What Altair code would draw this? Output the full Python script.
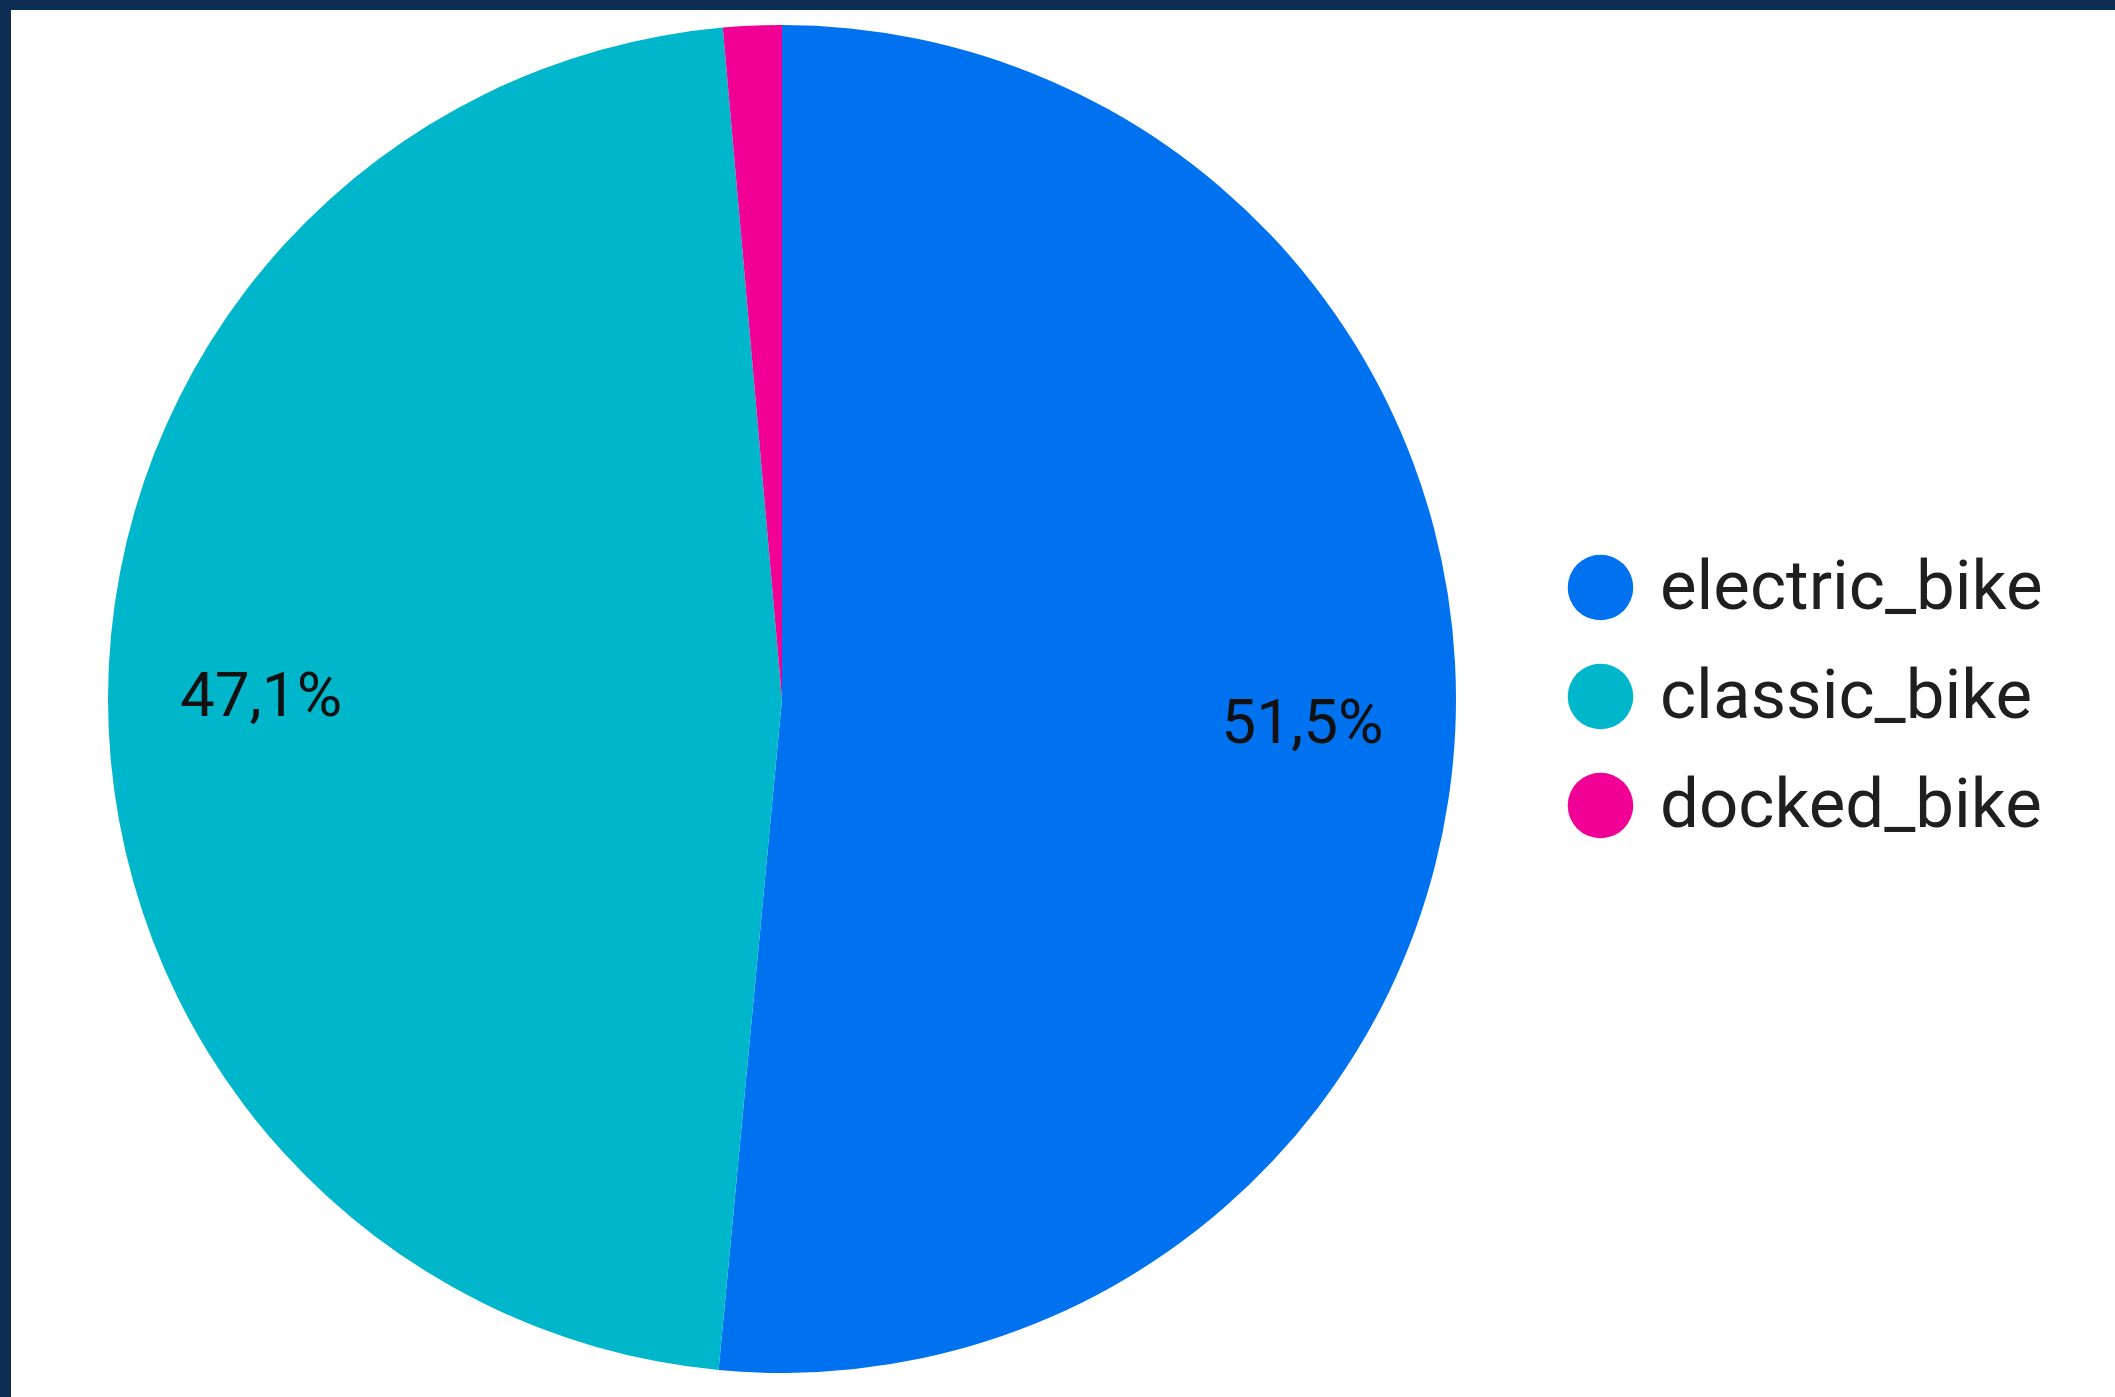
import altair as alt
import pandas as pd

categories = ["electric_bike", "classic_bike", "docked_bike"]
shares = [51.5, 47.1, 1.4]
labels = ["51,5%", "47,1%", ""]
colors = ["#0072f0", "#00b6cb", "#f10096"]

df = pd.DataFrame({
    "type": categories,
    "share": shares,
    "label": labels,
    "order": list(range(len(categories))),
})

W, H = 2104, 1387
CX, CY = 771, 689
R = 674

color = alt.Color(
    "type:N",
    scale=alt.Scale(domain=categories, range=colors),
    sort=categories,
    legend=alt.Legend(
        orient="none",
        legendX=1555,
        legendY=543,
        title=None,
        symbolType="circle",
        symbolSize=4300,
        symbolStrokeWidth=0,
        labelFontSize=69,
        labelFont="Roboto",
        labelColor="#1f1f1f",
        labelOffset=25,
        rowPadding=39,
        padding=0,
        labelLimit=600,
    ),
)

base = alt.Chart(df).encode(
    theta=alt.Theta("share:Q", stack=True),
    order=alt.Order("order:Q"),
)

pie = base.mark_arc(outerRadius=R, stroke=None).encode(
    color=color,
    x=alt.value(CX),
    y=alt.value(CY),
)

text = base.mark_text(
    radius=521, font="Roboto", fontSize=62, color="#111111",
    align="center", baseline="middle",
).encode(
    text="label:N",
    x=alt.value(CX),
    y=alt.value(CY),
)

chart = (
    alt.layer(pie, text)
    .properties(
        width=W, height=H,
        autosize=alt.AutoSizeParams(type="none"),
        padding={"left": 11, "top": 10, "right": 0, "bottom": 0},
        background="#0e2d53",
    )
    .configure_view(fill="white", stroke=None)
)

chart.save("out.html", embed_options={"renderer": "svg", "actions": False})
